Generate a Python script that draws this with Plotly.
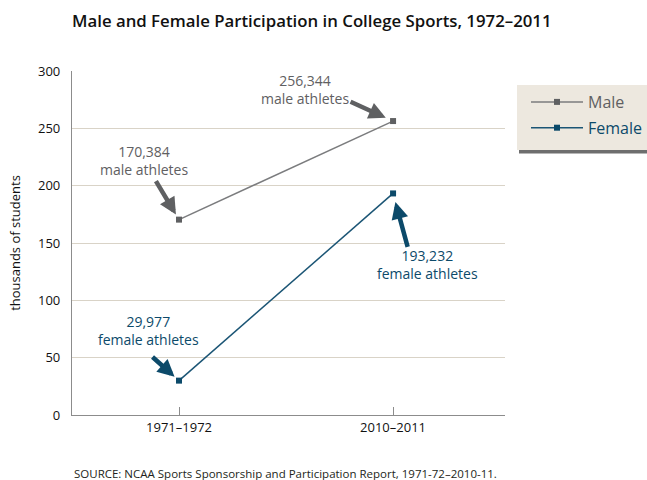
import plotly.graph_objects as go

categories = ["1971–1972", "2010–2011"]
male = [170.384, 256.344]
female = [29.977, 193.232]
male_labels = ["170,384<br>male athletes", "256,344<br>male athletes"]
female_labels = ["29,977<br>female athletes", "193,232<br>female athletes"]
y_ticks = [0, 50, 100, 150, 200, 250, 300]

MALE_C = "#7b7c7e"
MALE_DARK = "#5f6062"
FEM_C = "#1b5575"
FEM_DARK = "#0c4a6a"
FONT = "Open Sans"

W, H = 647, 480
L, T, B = 72, 71, 65
PW = W - L            # paper width (right margin 0)
PH = H - T - B        # plot height
def px(x): return (x - L) / PW
def py(y): return (H - B - y) / PH

fig = go.Figure()
fig.add_trace(go.Scatter(x=[0, 1], y=male,
                         name=f"<span style='color:{MALE_DARK}'>Male</span>",
                         mode="lines+markers",
                         line=dict(color=MALE_C, width=1.5),
                         marker=dict(symbol="square", size=6, color=MALE_DARK),
                         legendgroup="m"))
fig.add_trace(go.Scatter(x=[0, 1], y=female,
                         name=f"<span style='color:{FEM_DARK}'>Female</span>",
                         mode="lines+markers",
                         line=dict(color=FEM_C, width=1.5),
                         marker=dict(symbol="square", size=6, color=FEM_DARK),
                         legendgroup="f"))

ann = []
def label(x, y, text, color, dx, dy):
    ann.append(dict(x=x, y=y, xref="x", yref="y", text=text, showarrow=False,
                    xshift=dx, yshift=dy, font=dict(family=FONT, size=14, color=color),
                    align="center"))

def arrow(x, y, color, ax, ay, standoff):
    ann.append(dict(x=x, y=y, xref="x", yref="y", text="", showarrow=True,
                    ax=ax, ay=ay, arrowhead=2, arrowsize=0.75, arrowwidth=4.5,
                    arrowcolor=color, standoff=standoff))

label(0, male[0], male_labels[0], MALE_DARK, -35, 59)
arrow(0, male[0], MALE_DARK, -24, -40, 6)
label(1, male[1], male_labels[1], MALE_DARK, -88, 32)
arrow(1, male[1], MALE_DARK, -44, -20, 8)
label(0, female[0], female_labels[0], FEM_DARK, -31, 50)
arrow(0, female[0], FEM_DARK, -28, -25, 6)
label(1, female[1], female_labels[1], FEM_DARK, 34, -71)
arrow(1, female[1], FEM_DARK, 15, 55, 9)

ann.append(dict(x=0, y=-0.17, xref="paper", yref="paper",
                xanchor="left", yanchor="middle", showarrow=False,
                text="SOURCE: NCAA Sports Sponsorship and Participation Report, 1971-72–2010-11.",
                font=dict(family=FONT, size=11.5, color="#231f20")))

fig.update_layout(
    width=W, height=H,
    margin=dict(l=L, r=0, t=T, b=B),
    paper_bgcolor="white", plot_bgcolor="white",
    font=dict(family=FONT, size=13, color="#111"),
    title=dict(text="Male and Female Participation in College Sports, 1972–2011",
               x=L/W, xanchor="left", y=1 - 21/H, yanchor="middle",
               font=dict(family=FONT, size=16.8, color="#111", weight=600)),
    xaxis=dict(domain=[0, 433/PW], range=[-0.5, 1.523], tickvals=[0, 1], ticktext=categories,
               showgrid=False, zeroline=False, showline=True, linecolor="#8c8c8c",
               linewidth=1.2, ticks="inside", ticklen=8, tickcolor="#8c8c8c",
               tickfont=dict(size=13, color="#111")),
    yaxis=dict(range=[0, 300], tickvals=y_ticks, showgrid=True, gridcolor="#d9d3c7",
               gridwidth=1.2, zeroline=False, showline=True, linecolor="#8c8c8c",
               linewidth=1.2, ticks="", ticklabelstandoff=8,
               title=dict(text="thousands of students", standoff=14,
                          font=dict(size=13, color="#111")),
               tickfont=dict(size=13, color="#111")),
    legend=dict(x=px(526), y=py(85), xanchor="left", yanchor="top",
                bgcolor="rgba(0,0,0,0)", borderwidth=0,
                font=dict(family=FONT, size=16), itemwidth=52,
                traceorder="grouped", tracegroupgap=2),
    showlegend=True,
    annotations=ann,
    shapes=[
        dict(type="rect", xref="paper", yref="paper",
             x0=px(519), x1=px(700), y0=py(153.5), y1=py(120),
             fillcolor="#6e6e6e", line=dict(width=0), layer="below"),
        dict(type="rect", xref="paper", yref="paper",
             x0=px(517), x1=px(700), y0=py(150), y1=py(85),
             fillcolor="#ede8df", line=dict(width=0), layer="below"),
    ],
)
fig.write_html("out.html")
